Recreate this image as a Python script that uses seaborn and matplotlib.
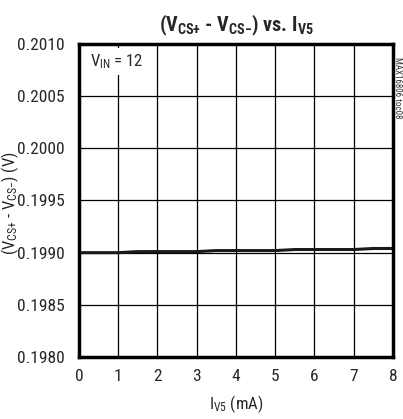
import matplotlib
matplotlib.use("Agg")
import matplotlib.pyplot as plt
import seaborn as sns
import pandas as pd

# data
iv5_ma = [0.0, 0.5, 1.0, 1.5, 2.0, 2.5, 3.0, 3.5, 4.0, 4.5, 5.0, 5.5, 6.0, 6.5, 7.0, 7.5, 8.0]
vcs_diff = [0.19900, 0.19900, 0.19900, 0.19901, 0.19901, 0.19901, 0.19901, 0.19902, 0.19902,
            0.19902, 0.19902, 0.19903, 0.19903, 0.19903, 0.19903, 0.19904, 0.19904]
x_ticks = [0, 1, 2, 3, 4, 5, 6, 7, 8]
y_ticks = [0.1980, 0.1985, 0.1990, 0.1995, 0.2000, 0.2005, 0.2010]
y_ticklabels = ["0.1980", "0.1985", "0.1990", "0.1995", "0.2000", "0.2005", "0.2010"]

df = pd.DataFrame({"iv5": iv5_ma, "v": vcs_diff})

sns.set_style("white")
plt.rcParams["font.family"] = ["Roboto Condensed", "DejaVu Sans"]
plt.rcParams["mathtext.default"] = "regular"

fig = plt.figure(figsize=(4.03, 4.19), dpi=100)
ax = fig.add_axes([0.196, 0.148, 0.779, 0.747])

sns.lineplot(data=df, x="iv5", y="v", ax=ax, color="#1a1a1a", linewidth=2.2)

ax.set_xlim(0, 8)
ax.set_ylim(0.1980, 0.2010)
ax.set_xticks(x_ticks)
ax.set_xticklabels([str(t) for t in x_ticks], fontsize=12.5)
ax.set_yticks(y_ticks)
ax.set_yticklabels(y_ticklabels, fontsize=12.5)
ax.tick_params(axis="x", length=0, pad=9)
ax.tick_params(axis="y", length=0, pad=10)

ax.grid(True, color="black", linewidth=0.9)
for s in ax.spines.values():
    s.set_visible(True)
    s.set_color("black")
    s.set_linewidth(2.5)

ax.set_xlabel("I$_{V5}$ (mA)", fontsize=12, labelpad=6)
ax.set_ylabel("(V$_{CS{+}}$ - V$_{CS{-}}$) (V)", fontsize=12)
ax.yaxis.set_label_coords(-0.185, 0.49)
ax.set_title("(V$_{CS{+}}$ - V$_{CS{-}}$) vs. I$_{V5}$", fontsize=14.5, fontweight="bold", pad=9)

ax.text(0.28, 0.20083, "V$_{IN}$ = 12", fontsize=12, va="center", ha="left",
        bbox=dict(facecolor="white", edgecolor="none", pad=3))

fig.text(0.986, 0.79, "MAX16806 toc08", rotation=270, fontsize=6.5, ha="center", va="center", color="#333333")

plt.savefig("out.png", dpi=100)
